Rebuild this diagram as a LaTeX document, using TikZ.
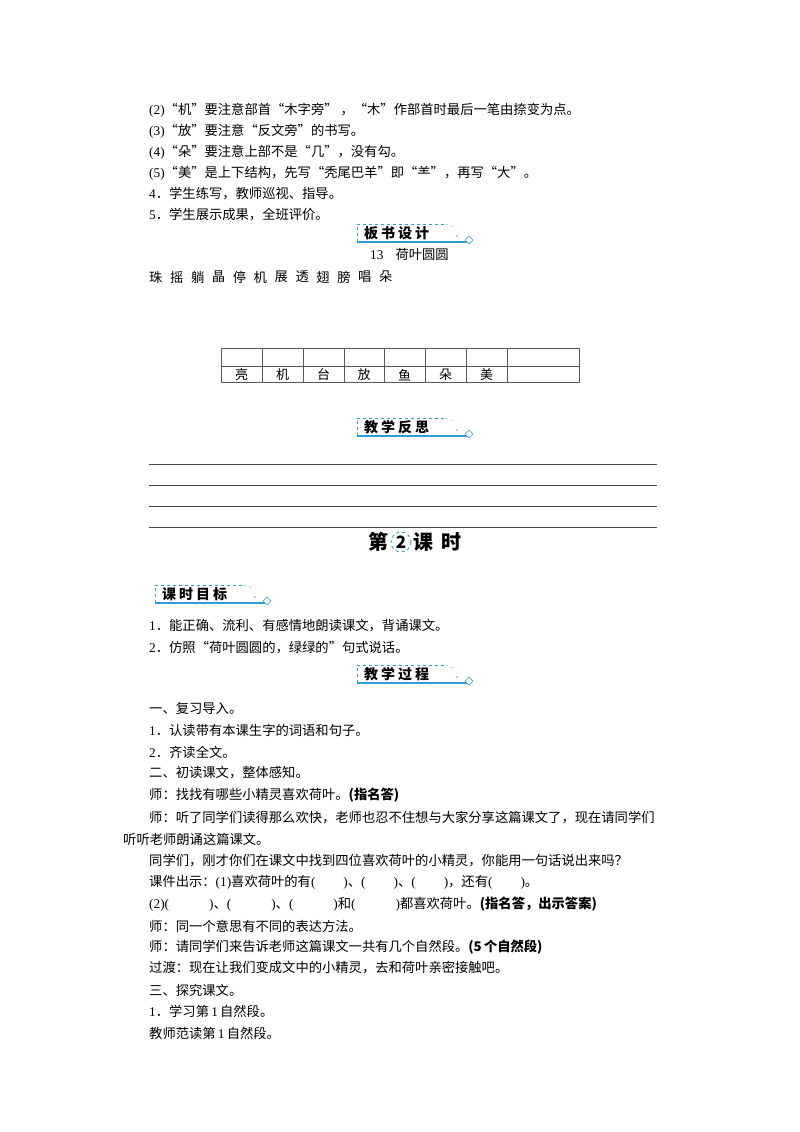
\documentclass[tikz,border=0pt]{standalone}
\usepackage{fontspec}
\setmainfont{Noto Sans CJK SC}
\newfontfamily\lat{Liberation Serif}
\definecolor{bcyan}{RGB}{40,160,215}
\tikzset{tx/.style={anchor=west,inner sep=0pt,font=\fontsize{13.3}{15}\selectfont},
 cell/.style={inner sep=0pt,font=\fontsize{13}{15}\selectfont}}
\newcommand\badgebox[4]{%
 \draw[bcyan,dashed,line width=0.6pt] (#1,#2+18) -- (#1,#2) -- (#1+88,#2);
 \draw[bcyan!50,dashed,line width=0.5pt] (#1+88,#2) -- (#1+100,#2+4);
 \draw[bcyan,line width=1.2pt] (#1,#2+18) -- (#1+110,#2+18);
 \draw[bcyan,line width=0.6pt,fill=white] (#1+112,#2+12) -- (#1+116,#2+16) -- (#1+112,#2+20) -- (#1+108,#2+16) -- cycle;
 \fill[bcyan!60] (#1+100,#2+12) circle (1.2);
 \node[anchor=west,inner sep=0pt,font=\fontsize{14}{15}\selectfont\bfseries] (#4) at (#1+7,#2+9) {#3};}
\begin{document}
\begin{tikzpicture}[x=1pt,y=-1pt]
\useasboundingbox (0,0) rectangle (800,1132);
\fill[white] (0,0) rectangle (800,1132);
\node[tx] (l1) at (149,110) {{\lat(2)}“机”要注意部首“木字旁” ，“木”作部首时最后一笔由捺变为点。};
\node[tx] (l2) at (149,131) {{\lat(3)}“放”要注意“反文旁”的书写。};
\node[tx] (l3) at (149,152) {{\lat(4)}“朵”要注意上部不是“几”，没有勾。};
\node[tx] (l4) at (149,173) {{\lat(5)}“美”是上下结构，先写“秃尾巴羊”即“⺷”，再写“大”。};
\node[tx] (l5) at (149,194) {{\lat 4}．学生练写，教师巡视、指导。};
\node[tx] (l6) at (149,215) {{\lat 5}．学生展示成果，全班评价。};
\badgebox{357}{224}{板\hspace{3pt}书\hspace{3pt}设\hspace{3pt}计}{b1}
\node[tx] (t13) at (370,254) {{\lat 13}\hspace{12pt}荷叶圆圆};
\foreach \c [count=\i from 0] in {珠,摇,躺,晶,停,机,展,透,翅,膀,唱,朵}
  \node[tx] (w\i) at (149+20.9*\i,277) {\c};
% table
\draw[gray!70!black,line width=0.8pt] (221,348) rectangle (579,382);
\draw[gray!70!black,line width=0.8pt] (221,366) -- (579,366);
\foreach \xx in {262,303,344,384,425,466,507}
  \draw[gray!70!black,line width=0.8pt] (\xx,348) -- (\xx,382);
\foreach \c/\xa/\xb [count=\i] in {亮/221/262,机/262/303,台/303/344,放/344/384,鱼/384/425,朵/425/466,美/466/507}
  \node[cell] (c\i) at ({(\xa+\xb)/2},375) {\c};
\badgebox{357}{418}{教\hspace{3pt}学\hspace{3pt}反\hspace{3pt}思}{b2}
\foreach \yy in {464,485,506,527}
  \draw[gray!60!black,line width=0.8pt] (149,\yy) -- (657,\yy);
% lesson title
\node[inner sep=0pt,font=\fontsize{20}{22}\selectfont\bfseries] (d1) at (378,542) {第};
\draw[bcyan,dashed,line width=0.8pt] (401,542) circle (10);
\node[inner sep=0pt,font=\fontsize{17}{22}\selectfont\bfseries] (d2) at (401,542) {2};
\node[inner sep=0pt,font=\fontsize{20}{22}\selectfont\bfseries] (d3) at (437,542) {课\hspace{8pt}时};
\badgebox{155}{585}{课\hspace{3pt}时\hspace{3pt}目\hspace{3pt}标}{b3}
\node[tx] (g1) at (149,626) {{\lat 1}．能正确、流利、有感情地朗读课文，背诵课文。};
\node[tx] (g2) at (149,648) {{\lat 2}．仿照“荷叶圆圆的，绿绿的”句式说话。};
\badgebox{357}{665}{教\hspace{3pt}学\hspace{3pt}过\hspace{3pt}程}{b4}
\node[tx] (p1) at (149,708) {一、复习导入。};
\node[tx] (p2) at (149,730) {{\lat 1}．认读带有本课生字的词语和句子。};
\node[tx] (p3) at (149,752) {{\lat 2}．齐读全文。};
\node[tx] (p4) at (149,773) {二、初读课文，整体感知。};
\node[tx] (p5) at (149,795) {师：找找有哪些小精灵喜欢荷叶。{\bfseries(指名答)}};
\node[tx] (p6) at (149,818) {师：听了同学们读得那么欢快，老师也忍不住想与大家分享这篇课文了，现在请同学们};
\node[tx] (p7) at (123,839) {听听老师朗诵这篇课文。};
\node[tx] (p8) at (149,861) {同学们，刚才你们在课文中找到四位喜欢荷叶的小精灵，你能用一句话说出来吗？};
\node[tx] (p9) at (149,882) {课件出示：{\lat(1)}喜欢荷叶的有{\lat(}\hspace{28pt}{\lat)}、{\lat(}\hspace{28pt}{\lat)}、{\lat(}\hspace{28pt}{\lat)}，还有{\lat(}\hspace{28pt}{\lat)}。};
\node[tx] (p10) at (149,904) {{\lat(2)(}\hspace{40pt}{\lat)}、{\lat(}\hspace{40pt}{\lat)}、{\lat(}\hspace{40pt}{\lat)}和{\lat(}\hspace{40pt}{\lat)}都喜欢荷叶。{\bfseries(指名答，出示答案)}};
\node[tx] (p11) at (149,926) {师：同一个意思有不同的表达方法。};
\node[tx] (p12) at (149,947) {师：请同学们来告诉老师这篇课文一共有几个自然段。{\bfseries(5\,个自然段)}};
\node[tx] (p13) at (149,968) {过渡：现在让我们变成文中的小精灵，去和荷叶亲密接触吧。};
\node[tx] (p14) at (149,990) {三、探究课文。};
\node[tx] (p15) at (149,1011) {{\lat 1}．学习第\,{\lat 1}\,自然段。};
\node[tx] (p16) at (149,1033) {教师范读第\,{\lat 1}\,自然段。};
\end{tikzpicture}
\end{document}
